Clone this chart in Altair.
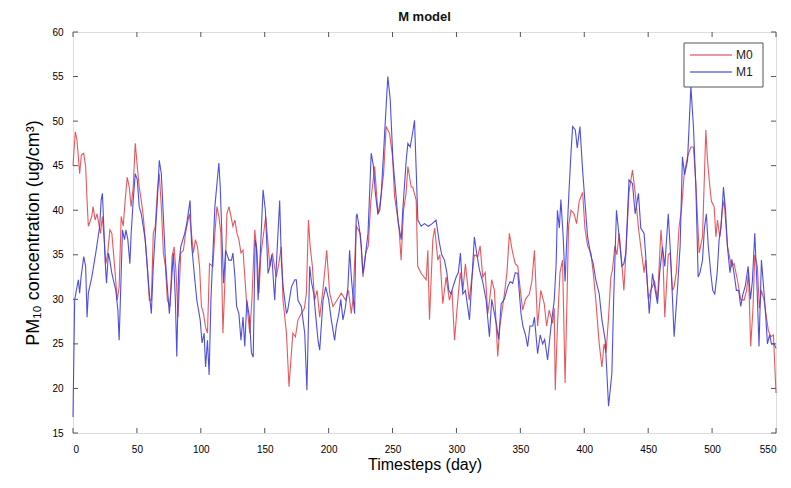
import altair as alt
import pandas as pd

# ---- data ----
m0_day = [0, 1.8, 3.1, 5.2, 6.5, 8.4, 9.9, 11, 12, 14.7, 15.7, 17.3, 18.8, 21.5, 23, 24.6, 25.7, 27.2, 28.8, 30.4,
          33, 34.6, 36.1, 37.7, 39.3, 40.8, 42.4, 44, 45.5, 47.1, 48.7, 50.3, 51.8, 53.4, 55, 56.5, 58.1, 59.7, 61.3, 62.8,
          64.4, 66, 67.5, 69.1, 70.7, 72.3, 73.8, 75.9, 77.5, 79.1, 80.6, 82.2, 84.3, 86.4, 88, 91, 92.7, 94.2, 95.8, 97.4,
          99, 100.5, 102.1, 103.7, 105.2, 106.8, 109.4, 111, 112.6, 114.1, 115.7, 117.3, 118.8, 120.4, 122, 123.6, 125.1, 126.7, 128.3, 129.8,
          131.4, 133, 135.7, 138.3, 140, 142.2, 144, 145.5, 147, 150.8, 154, 156, 159, 161, 163, 164.3, 167, 169, 172, 174,
          176, 178.7, 181, 182.6, 184.2, 185.5, 187.3, 189, 191, 193, 195.5, 198.5, 200.8, 203.4, 206.5, 209.9, 213.3, 215.5, 217.7, 219,
          221.6, 224.8, 226.9, 229, 231, 233, 236, 238.6, 240.5, 243, 245, 247.7, 250, 251.6, 255, 256.7, 258.6, 260.6, 262, 264.6,
          265.8, 268.5, 269.7, 272.4, 276.3, 277.6, 278.9, 281.5, 283, 285.4, 287, 289.3, 291.9, 294.5, 296.5, 298.5, 300.5, 303, 305, 307,
          310, 312.5, 314, 316.7, 318.5, 320.6, 322.5, 324.5, 326, 327.6, 329.7, 332.3, 334, 337.5, 339.5, 341.4, 343, 344, 346, 348,
          350, 351.8, 354, 357, 359, 361, 363.5, 366, 368.7, 370.5, 372.6, 375.2, 376.5, 377.3, 379, 381, 383, 385, 386.5, 387.7,
          389.6, 392, 394, 396, 398.7, 400.5, 402.6, 405.2, 407, 409, 411.7, 413.8, 415.5, 417, 419, 420.8, 422, 424, 425.5, 427.3,
          429.4, 431, 432.5, 435, 437.7, 439.8, 442.4, 444.2, 446.8, 448, 450.2, 452, 455, 457.3, 460, 461.5, 463, 465.7, 467.2, 469,
          470.3, 472, 474.2, 476, 478.2, 480.8, 483.4, 485.4, 487.3, 489.9, 492.5, 495.1, 496.4, 498, 499.5, 501.6, 503, 504.2, 506, 508,
          509.4, 512, 515.1, 517.2, 519.8, 522.4, 525, 527, 528.5, 530.2, 532, 533.4, 535.4, 537, 538.6, 540.7, 542.5, 544, 546, 548,
          550]
m0_val = [45, 48.8, 47.9, 44.1, 46.2, 46.4, 44.9, 41.1, 38.2, 39.3, 40.4, 38.9, 39.6, 37.4, 39.3, 36.3, 34, 35.2, 37.8, 37.4,
          32.9, 29.9, 31.4, 39.3, 38.2, 41.1, 43.7, 42.6, 40.4, 42.6, 47.5, 44.9, 42.6, 41.1, 39.3, 36.7, 33.7, 29.9, 29.9, 37.4,
          38.2, 42.2, 44.1, 40.4, 35.2, 33.7, 29.9, 29.2, 34.8, 35.9, 33, 28, 35.2, 35.5, 37.4, 39.6, 37.4, 35.2, 36.7, 35.9,
          33.7, 29.2, 28.4, 26.9, 26.2, 34, 33.7, 37.4, 40.4, 39.3, 37.4, 26.2, 31.8, 39.6, 40.4, 39.3, 38.2, 38.9, 37.4, 36.7,
          35.2, 35.5, 29.9, 26.2, 30, 37.8, 35.2, 30.7, 35, 39.3, 33.7, 35.2, 32.5, 34, 35.9, 29.9, 26.2, 20.2, 26.2, 25.8,
          27.7, 28.4, 29, 30.7, 38.9, 36, 33.7, 29.9, 31, 28, 31, 35.5, 30.7, 29.2, 29.9, 30.7, 29.9, 31, 28.4, 29.9,
          38.2, 37.4, 32.5, 35.2, 36, 41, 44.9, 39.6, 41, 44.1, 49.4, 48.6, 46, 41.5, 38.2, 34.4, 40, 41.9, 44.9, 42.6,
          42.6, 41.1, 33.7, 32.9, 32.2, 35.5, 27.7, 36.7, 38, 34.4, 35, 29.5, 32.5, 29.9, 31, 25.4, 29, 33, 31, 34,
          29.9, 33, 35, 34.8, 36, 32.5, 33, 28.4, 30, 32.2, 31, 23.6, 27, 30.6, 33, 37.4, 36, 35.2, 34, 33.7,
          31, 28.8, 30, 30.6, 32, 35.5, 27, 31, 29.5, 27, 28.8, 27.3, 29, 19.8, 27, 33, 34.4, 20.6, 30, 38.2,
          40, 39.6, 38.5, 41, 42, 38, 36, 35.2, 33, 30, 25, 22.4, 25, 24, 28, 32.5, 33.3, 36, 35, 37.4,
          34, 31, 35, 42, 44.5, 42, 38, 35.9, 33, 34.4, 30, 31, 32, 30, 37.8, 35, 28, 35, 35.2, 31,
          31.4, 33, 38.2, 40, 44.1, 46, 47.1, 47.1, 43, 35.2, 37, 49, 45.6, 43, 41, 40.4, 37, 38.9, 37, 40,
          41.1, 36, 33.7, 34, 32.2, 30, 29.9, 31, 33, 24.7, 29, 35, 33.7, 29, 31, 29.9, 28, 26.5, 25.8, 26,
          19.5]

m1_day = [0, 1.3, 2.6, 4.2, 5.2, 6.3, 8.4, 9.9, 11, 12, 14.7, 17.8, 20.9, 22, 23, 24.1, 25.1, 26.2, 27.7, 28.8,
          30.4, 33.5, 35.1, 36.1, 37.7, 38.7, 40.3, 41.4, 42.9, 44.5, 45.5, 47.1, 48.7, 50.3, 51.8, 53.4, 56.5, 58.1, 59.7, 61.3,
          62.8, 64.4, 66, 67.5, 69.1, 70.7, 72.3, 73.8, 75.4, 77, 78.5, 80.1, 81.2, 82.7, 84.3, 87.4, 89, 91.6, 92.7, 95.3,
          96.9, 99.5, 101, 102.6, 103.7, 105.2, 106.5, 107.9, 111, 114.1, 115.2, 117.8, 119.4, 122, 124, 125.1, 126.7, 128, 129.8, 131.4,
          133, 134.4, 136, 138, 139.6, 141, 142.5, 143.5, 144.8, 146.5, 148.7, 150.5, 152.6, 154, 155.5, 157.8, 159.5, 161.7, 163, 164.4,
          167, 168, 170.9, 173.5, 174.7, 176, 178.6, 181.3, 183, 185.2, 186.5, 188.3, 190, 191.7, 193, 195.6, 197.7, 200, 202.1, 204.7,
          206, 208, 209.5, 211.2, 213, 215.1, 216.4, 218, 220.3, 221.6, 222.2, 224, 225.6, 226.8, 228, 230.8, 233.3, 235, 236.5, 238.5,
          240, 241.2, 243.8, 246.3, 248.2, 248.9, 250.3, 252.8, 254.5, 256.8, 258, 260.7, 262, 263.8, 265.5, 267.2, 269.8, 272.4, 275, 278,
          281, 284, 286.7, 288.5, 290.6, 292.5, 294, 295.8, 297.5, 299.8, 301.5, 303.1, 305, 307, 310.2, 312, 314, 316, 318, 320.5,
          323.2, 325.8, 327.6, 329.7, 331.5, 333, 335, 337.5, 340.1, 342, 344, 346, 348, 350.5, 352, 354, 355.7, 357.5, 359.7, 361,
          363.5, 365.5, 367.4, 369, 371.3, 374, 376.5, 378, 379, 380.5, 381.7, 383.5, 385, 386.2, 388, 389.6, 390.9, 393, 394.5, 396.6,
          398.7, 400.5, 402.6, 405, 407, 409, 411.7, 413.8, 416.4, 419, 421.6, 423, 425.2, 427.3, 429.4, 431, 432.5, 435, 437.7, 439.8,
          442.4, 444.2, 446.8, 448, 450.8, 453.4, 455.5, 457.3, 459, 461.2, 463, 465.7, 467.5, 470.3, 473, 475, 476.8, 478.5, 480.8, 483.4,
          485.4, 487.3, 489.1, 490.5, 492.5, 494, 495.5, 497, 499, 500.5, 502.1, 504, 505.5, 507, 508.9, 510.5, 512, 514, 515.5, 517.2,
          519, 520.8, 522.4, 524, 526, 528.2, 530, 531.5, 533.4, 535, 536.7, 538.6, 540.5, 542, 543.3, 545, 546.5, 548.5, 550]
m1_val = [16.8, 29.9, 31, 32.2, 30.7, 32.5, 34.8, 33.7, 28, 30.7, 32.5, 35.2, 38.2, 41.1, 41.9, 38.2, 34.4, 31.8, 35.2, 34.4,
          32.9, 31, 28.8, 25.4, 32.9, 37.8, 36.7, 37.8, 36.7, 34, 37.4, 41.1, 44.1, 43.4, 40.4, 39.6, 36.7, 33.7, 30.7, 28.4,
          33.7, 37.4, 41.1, 45.6, 44.1, 39.3, 34.4, 31.4, 28.4, 31.8, 35.2, 29.9, 23.6, 33.7, 35.9, 37.4, 38.5, 41.1, 36.3, 32.2,
          29.9, 27.7, 25.1, 26.2, 22.4, 25.4, 21.5, 29.9, 40.4, 45.3, 42.6, 31.8, 35.5, 34.4, 34.4, 35.2, 32.5, 29.2, 28.4, 25.4,
          28, 24.7, 29.9, 28, 24, 23.5, 36.7, 35.9, 29.9, 35, 42.3, 40, 32.9, 33.7, 35, 29.9, 35, 41.1, 34.4, 31.4,
          28.4, 28.8, 31.4, 32.2, 32.2, 29.9, 29.2, 26.2, 19.8, 33.7, 32, 30.7, 28, 25.4, 24.3, 29.9, 31.4, 30, 27.7, 25.4,
          27, 28.4, 30, 27.7, 29, 31.4, 35.5, 32, 28.4, 39.3, 39.6, 38, 35.9, 32.9, 34, 37.4, 46.4, 45, 42, 39.6,
          40, 41.9, 48.6, 55, 52.4, 50.1, 45.6, 41.5, 38.5, 36.7, 40, 45.6, 47.5, 47.1, 48.5, 50.1, 38.9, 38.2, 38.5, 38.2,
          38.5, 38.9, 36.3, 35, 34.4, 33, 31, 30.6, 31.5, 32.5, 33, 35.2, 30.6, 31, 27.7, 32, 37, 35, 33.3, 32,
          29.9, 25.8, 30, 28.4, 27, 25.5, 29.5, 30, 31.4, 32, 31.8, 33, 32.9, 28.4, 27, 26, 24.7, 27, 27, 28,
          23.9, 26, 25, 25.5, 23.2, 27, 29.9, 34, 40, 38, 41.2, 37, 32, 36.3, 42, 46.4, 49.4, 49, 47, 49.4,
          44.5, 41, 37, 35, 34, 32.2, 30.6, 27.7, 25.4, 18, 21.7, 30, 40, 37, 33.7, 34, 35.2, 43.4, 43, 39.6,
          41.9, 38, 37.4, 35, 28.4, 32.9, 31, 29.5, 33, 35.9, 33.7, 39.6, 35, 25.8, 31.4, 36, 46, 44, 45.6, 53.9,
          49.4, 42.6, 32.5, 33, 34.4, 38, 39.6, 36, 32.9, 31, 30.6, 33, 36.7, 38, 42.6, 40, 35.9, 33, 34.5, 32.9,
          31, 31, 29.2, 30.5, 31.5, 33.7, 30, 32, 37.4, 32, 24.7, 34.4, 31, 28, 25, 26, 25, 25, 24.5]

series_names = ["M0", "M1"]
series_colors = ["#e2474c", "#3c3cdc"]
x_ticks = [0, 50, 100, 150, 200, 250, 300, 350, 400, 450, 500, 550]
y_ticks = [15, 20, 25, 30, 35, 40, 45, 50, 55, 60]

df = pd.concat([
    pd.DataFrame({"day": m0_day, "value": m0_val, "series": "M0"}),
    pd.DataFrame({"day": m1_day, "value": m1_val, "series": "M1"}),
], ignore_index=True)

W, H = 703, 401
FONT = "Liberation Sans"

xscale = alt.Scale(domain=[0, 550], nice=False, zero=False)
yscale = alt.Scale(domain=[15, 60], nice=False, zero=False)

lines = alt.Chart(df).mark_line(strokeWidth=1.1, opacity=0.9).encode(
    x=alt.X("day:Q", scale=xscale,
            axis=alt.Axis(values=x_ticks, title="Timesteps (day)", grid=False, domain=False,
                          tickSize=0, labelPadding=11, titlePadding=2,
                          titleFontWeight="normal", titleFontSize=16)),
    y=alt.Y("value:Q", scale=yscale,
            axis=alt.Axis(values=y_ticks, title="PM₁₀ concentration (ug/cm³)", grid=False, domain=False,
                          tickSize=0, labelPadding=10, titlePadding=9,
                          titleFontWeight="normal", titleFontSize=18)),
    color=alt.Color("series:N", scale=alt.Scale(domain=series_names, range=series_colors), legend=None),
    detail="series:N",
)

xt = pd.DataFrame({"t": x_ticks})
yt = pd.DataFrame({"t": y_ticks})
tick_color = "#555"
bottom_ticks = alt.Chart(xt).mark_rule(color=tick_color).encode(
    x=alt.X("t:Q", scale=xscale), y=alt.value(H), y2=alt.value(H - 5))
top_ticks = alt.Chart(xt).mark_rule(color=tick_color).encode(
    x=alt.X("t:Q", scale=xscale), y=alt.value(0), y2=alt.value(5))
left_ticks = alt.Chart(yt).mark_rule(color=tick_color).encode(
    y=alt.Y("t:Q", scale=yscale), x=alt.value(0), x2=alt.value(5))
right_ticks = alt.Chart(yt).mark_rule(color=tick_color).encode(
    y=alt.Y("t:Q", scale=yscale), x=alt.value(W), x2=alt.value(W - 5))

# ---- legend box (drawn by hand, MATLAB style) ----
leg_df = pd.DataFrame({"series": series_names})
legend_layers = [
    alt.Chart(leg_df.head(1)).mark_rect(fill="white", stroke="#555", strokeWidth=1).encode(
        x=alt.value(611), x2=alt.value(690), y=alt.value(11), y2=alt.value(55))
]
for i, (name, col) in enumerate(zip(series_names, series_colors)):
    yy = 23 + 17 * i
    base = alt.Chart(leg_df).transform_filter(alt.datum.series == name)
    legend_layers.append(base.mark_rule(color=col, strokeWidth=1.5, opacity=0.75).encode(
        x=alt.value(617), x2=alt.value(659), y=alt.value(yy)))
    legend_layers.append(base.mark_text(align="left", baseline="middle", font=FONT, fontSize=12,
                                        color="#222").encode(
        x=alt.value(663), y=alt.value(yy), text="series:N"))

chart = alt.layer(lines, bottom_ticks, top_ticks, left_ticks, right_ticks, *legend_layers).properties(
    width=W, height=H,
    title=alt.TitleParams("M model", font=FONT, fontSize=13, fontWeight="bold", color="#111",
                          anchor="middle", offset=3),
    autosize=alt.AutoSizeParams(type="none"),
    padding={"left": 65, "top": 24, "right": 7, "bottom": 47},
).configure_view(stroke="#666", strokeWidth=1).configure_axis(
    labelFont=FONT, labelFontSize=13, labelColor="#4a4a4a",
    titleFont=FONT, titleColor="#333",
).configure(background="white")

chart.save("out.html", embed_options={"renderer": "svg", "actions": False})
